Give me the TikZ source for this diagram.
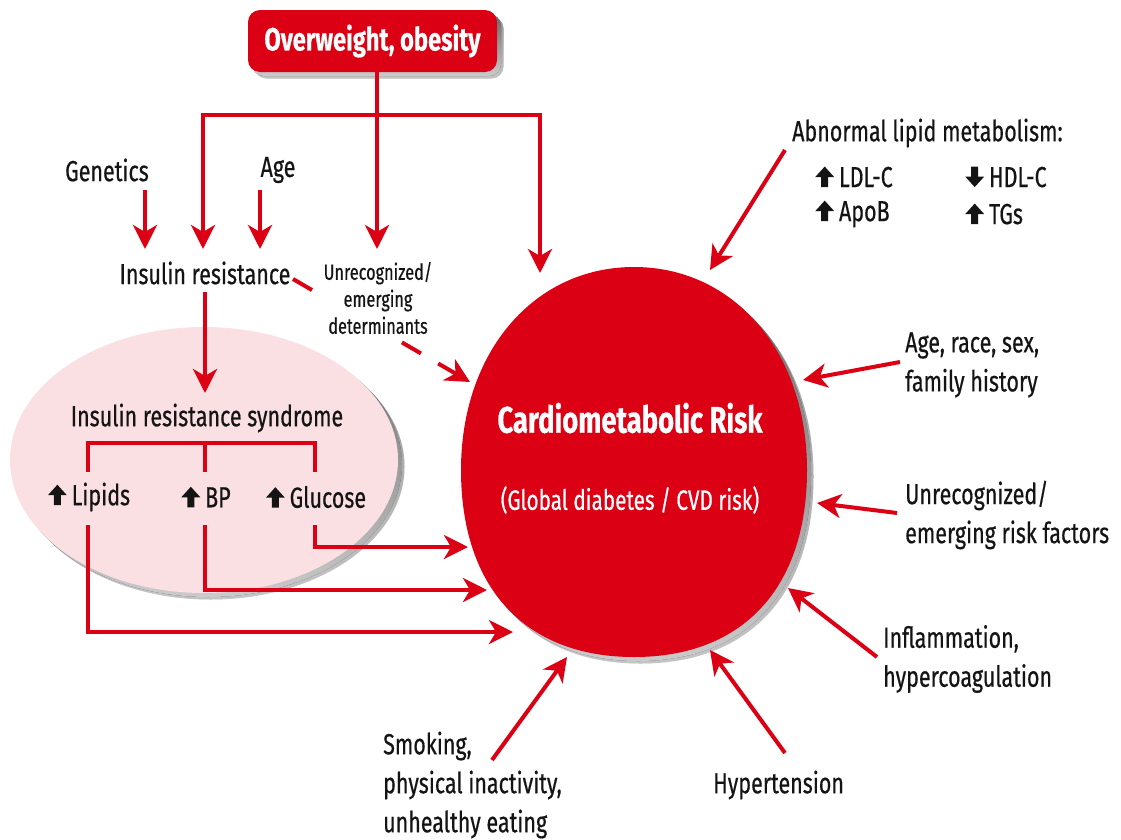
\documentclass[tikz,border=0pt]{standalone}
\usepackage{fontspec}
\setmainfont{Fira Sans}[FakeStretch=0.74, FakeBold=0.5]
\usetikzlibrary{arrows.meta}

\definecolor{cmred}{RGB}{220,0,20}
\definecolor{irpink}{RGB}{251,224,227}
\definecolor{shade}{RGB}{30,52,62}
\definecolor{ink}{RGB}{20,20,20}

% solid block arrows used inside the labels
\newcommand{\upblk}{\tikz[x=1pt,y=1pt,baseline=0pt]\fill[ink] (-3.5,0)--(3.5,0)--(3.5,10)--(9.5,10)--(0,20.5)--(-9.5,10)--(-3.5,10)--cycle;}
\newcommand{\dnblk}{\tikz[x=1pt,y=1pt,baseline=0pt]\fill[ink] (-3.5,20.5)--(3.5,20.5)--(3.5,10.5)--(9.5,10.5)--(0,0)--(-9.5,10.5)--(-3.5,10.5)--cycle;}

% outline of the central risk disc
\newcommand{\riskpath}{(807,470) .. controls (807,587.8) and (743,657) .. (634,657)
  .. controls (525,657) and (461,587.8) .. (461,470)
  .. controls (461,352.3) and (533.7,267) .. (634,267)
  .. controls (734.3,267) and (807,352.3) .. (807,470) -- cycle}

\tikzset{
  wire/.style={draw=cmred, line width=4pt},
  arr/.style={wire, -{Stealth[length=24pt,width=24pt,inset=7pt]}},
  lbl/.style={text=ink, font=\fontsize{29}{39}\selectfont, align=left, inner sep=0pt},
  small/.style={text=ink, font=\fontsize{22}{27}\selectfont, align=center, inner sep=1pt},
}

\begin{document}
\begin{tikzpicture}[x=1pt,y=-1pt]
\useasboundingbox[fill=white] (0,0) rectangle (1121,839);

% ---- shadows ----
\begin{scope}[shift={(6.5,6.5)}]
  \fill[shade, opacity=0.35] \riskpath;
  \fill[shade, opacity=0.35] (204,460) ellipse [x radius=194, y radius=133];
  \fill[shade, opacity=0.35, rounded corners=12] (248,10) rectangle (497,72);
\end{scope}
\begin{scope}[shift={(4,4)}]
  \fill[shade, opacity=0.75] \riskpath;
  \fill[shade, opacity=0.75] (204,460) ellipse [x radius=194, y radius=133];
  \fill[shade, opacity=0.75, rounded corners=12] (248,10) rectangle (497,72);
\end{scope}

% ---- main shapes ----
\fill[irpink] (204,460) ellipse [x radius=194, y radius=133];
\fill[cmred] \riskpath;
\node[fill=cmred, rounded corners=12, minimum width=249, minimum height=62,
      text=white, font=\bfseries\fontsize{32}{38}\selectfont] (ow) at (372.5,41) {Overweight, obesity};

% ---- labels ----
\node[lbl] (gen) at (107,170) {Genetics};
\node[lbl] (age) at (278,170) {Age};
\node[lbl] (ir) at (205,273) {Insulin resistance};
\node[lbl] (irs) at (207,418) {Insulin resistance syndrome};
\node[lbl] (lip) at (89,497) {\upblk\,Lipids};
\node[lbl] (bp) at (206,497) {\upblk\,BP};
\node[lbl] (glu) at (316,497) {\upblk\,Glucose};

\node[text=white, font=\bfseries\fontsize{37}{40}\selectfont, inner sep=0pt] (cmrt) at (630,418) {Cardiometabolic Risk};
\node[text=white, font=\fontsize{28}{34}\selectfont, inner sep=0pt] (cmrs) at (630,500) {(Global diabetes / CVD risk)};

\node[lbl, anchor=west] (alm) at (792,133) {Abnormal lipid metabolism:};
\node[lbl, anchor=west] (ldl) at (815,177) {\upblk\,LDL-C};
\node[lbl, anchor=west] (hdl) at (965,177) {\dnblk\,HDL-C};
\node[lbl, anchor=west] (apob) at (815,214) {\upblk\,ApoB};
\node[lbl, anchor=west] (tgs) at (965,214) {\upblk\,TGs};
\node[lbl, anchor=west] (ars) at (905,365) {Age, race, sex,\\family history};
\node[lbl, anchor=west] (urf) at (905,515) {Unrecognized/\\emerging risk factors};
\node[lbl, anchor=west] (infl) at (883,659) {Inflammation,\\hypercoagulation};
\node[lbl, anchor=west] (hyp) at (713,785) {Hypertension};
\node[lbl, anchor=west] (smk) at (383,785) {Smoking,\\physical inactivity,\\unhealthy eating};

% ---- connector end points ----
\coordinate (jR) at (540,115);
\coordinate (tIRo) at (203,249);
\coordinate (tUnr) at (377,249);
\coordinate (tTop) at (540,273);
\coordinate (gA) at (145,190);  \coordinate (gB) at (145,249);
\coordinate (aA) at (260,190);  \coordinate (aB) at (260,249);
\coordinate (irA) at (205,292); \coordinate (irB) at (205,393);
\coordinate (dA) at (293,279);  \coordinate (dB) at (470,382);
\coordinate (bL) at (88,472);   \coordinate (bM) at (205,472);  \coordinate (bR) at (315,472);
\coordinate (bar) at (205,443);
\coordinate (oL) at (88,525);   \coordinate (oM) at (205,525);  \coordinate (oR) at (315,525);
\coordinate (tG) at (468,547);  \coordinate (tB) at (487,590);  \coordinate (tL) at (513,632);
\coordinate (sAlm) at (785,150); \coordinate (eAlm) at (710,270);
\coordinate (sArs) at (900,362); \coordinate (eArs) at (803,380);
\coordinate (sUrf) at (897,513); \coordinate (eUrf) at (817,503);
\coordinate (sInf) at (877,657); \coordinate (eInf) at (788,588);
\coordinate (sHyp) at (785,753); \coordinate (eHyp) at (710,650);
\coordinate (sSmk) at (492,760); \coordinate (eSmk) at (567,657);

% ---- connectors ----
\draw[arr] (ow.south -| tUnr) -- (tUnr);
\draw[wire, {Stealth[length=24pt,width=24pt,inset=7pt]}-{Stealth[length=24pt,width=24pt,inset=7pt]}]
  (tIRo) |- (jR) -- (tTop);
\draw[arr] (gA) -- (gB);
\draw[arr] (aA) -- (aB);
\draw[arr] (irA) -- (irB);
\draw[arr, dash pattern=on 22pt off 20pt] (dA) -- (dB);
\node[small, fill=white] (unr) at (378,298) {Unrecognized/\\emerging\\determinants};

\draw[wire] (bL) -- (bL |- bar) -- (bar -| bR) -- (bR);
\draw[wire] (bar) -- (bM);
\draw[arr] (oR) |- (tG);
\draw[arr] (oM) |- (tB);
\draw[arr] (oL) |- (tL);

% factors pointing at the central risk
\draw[arr] (sAlm) -- (eAlm);
\draw[arr] (sArs) -- (eArs);
\draw[arr] (sUrf) -- (eUrf);
\draw[arr] (sInf) -- (eInf);
\draw[arr] (sHyp) -- (eHyp);
\draw[arr] (sSmk) -- (eSmk);
\end{tikzpicture}
\end{document}
